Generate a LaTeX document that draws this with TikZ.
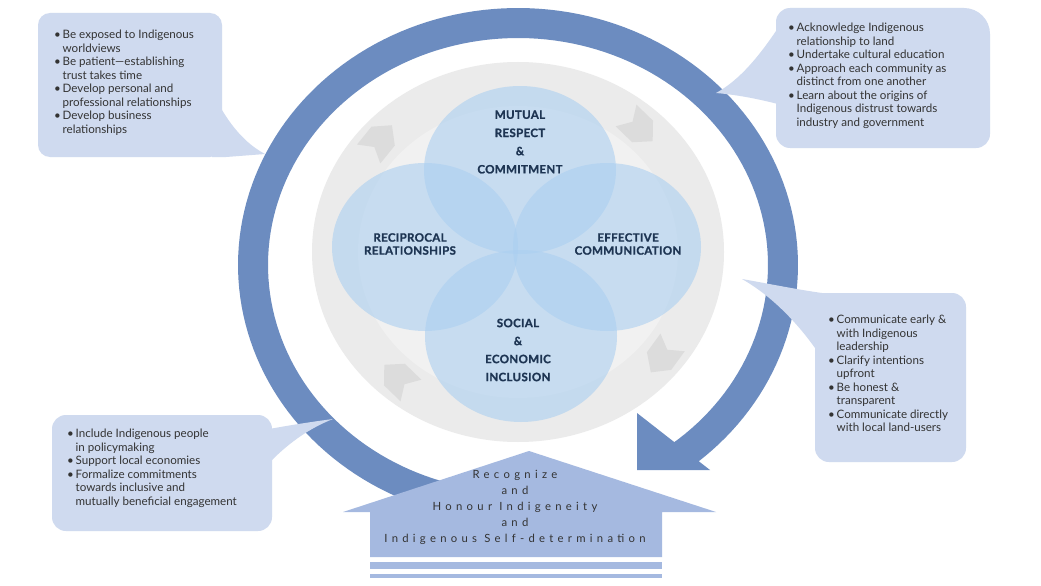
\documentclass[tikz,border=0pt]{standalone}
\usepackage{fontspec}
\setmainfont{Lato}
\newfontfamily\housefont[LetterSpace=38]{Lato}
\newfontfamily\vennfont[LetterSpace=3, BoldFeatures={FakeBold=1.2}]{Lato}
\definecolor{ringblue}{HTML}{6C8CC0}
\definecolor{bubblefill}{HTML}{CFDAEF}
\definecolor{housefill}{HTML}{A5B9E0}
\definecolor{grayband}{HTML}{EBEBEB}
\definecolor{grayinner}{HTML}{F1F1F1}
\definecolor{chevfill}{HTML}{DCDCDC}
\definecolor{vennfill}{HTML}{ABCFF0}
\definecolor{navy}{HTML}{1E3553}
\definecolor{txtgray}{HTML}{333333}
\newcommand\bi{\makebox[8.5pt][l]{\textbullet}}
\newcommand\ci{\hspace*{8.5pt}}
\tikzset{
  vennshape/.style={fill=vennfill, fill opacity=0.6},
  vlab/.style={font=\vennfont\fontsize{11.5}{13}\selectfont\bfseries, text=navy, align=center, inner sep=0pt},
  btext/.style={font=\fontsize{11.6}{13.5}\selectfont, text=txtgray, align=left, inner sep=0pt, anchor=north west},
  htext/.style={font=\housefont\fontsize{11.3}{16}\selectfont, text=txtgray, align=center, inner sep=0pt},
  bubble/.style={fill=bubblefill},
  chevron/.pic={\fill[chevfill] (-18,-15) -- (5,-15) -- (19,0) -- (5,15) -- (-18,15) -- (-9,0) -- cycle;}
}
\begin{document}
\begin{tikzpicture}[x=1pt,y=-1pt]
\path[use as bounding box, fill=white] (0,0) rectangle (1041,586);
% gray background ring
\fill[grayband] (518,252) ellipse [x radius=206pt, y radius=190pt];
\fill[grayinner] (518,252) ellipse [x radius=160pt, y radius=146pt];
\pic[rotate=51] at (380,140) {chevron};
\pic[rotate=-44] at (639,128) {chevron};
\pic[rotate=-126] at (662,357) {chevron};
\pic[rotate=136] at (398,378) {chevron};
% venn circles
\fill[vennshape] (520,170) ellipse [x radius=96pt, y radius=84pt];
\fill[vennshape] (425,247) ellipse [x radius=93pt, y radius=84pt];
\fill[vennshape] (607,247) ellipse [x radius=94pt, y radius=84pt];
\fill[vennshape] (521,336) ellipse [x radius=96pt, y radius=86pt];
\node[vlab, font=\vennfont\fontsize{11.5}{18.2}\selectfont\bfseries] (mrc) at (520,142) {MUTUAL\\RESPECT\\\&\\COMMITMENT};
\node[vlab] (rr) at (410,244) {RECIPROCAL\\RELATIONSHIPS};
\node[vlab] (ec) at (628,244) {EFFECTIVE\\COMMUNICATION};
\node[vlab, font=\vennfont\fontsize{11.5}{18}\selectfont\bfseries] (sei) at (518,350) {SOCIAL\\\&\\ECONOMIC\\INCLUSION};
% blue cycle ring
\fill[ringblue] plot[domain=100:412,samples=160] ({518+280*cos(\x)},{265+257*sin(\x)})
  -- plot[domain=412:100,samples=160] ({518+250*cos(\x)},{265+227*sin(\x)}) -- cycle;
\fill[ringblue] (637,413) -- (637,470) -- (710,470) -- cycle;
% bubbles
\fill[bubble, rounded corners=12pt] (38,13) rectangle (222,157);
\fill[bubble] (212,100) -- (222,110) .. controls (234,130) and (248,145) .. (265,154) -- (226,157) -- (212,157) -- cycle;
\fill[bubble, rounded corners=14pt] (776,148) -- (776,8) [rounded corners=26pt] -- (990,8) [rounded corners=14pt] -- (990,148) -- cycle;
\fill[bubble] (790,22) -- (778,28) .. controls (760,55) and (740,80) .. (716,93) .. controls (740,95) and (762,100) .. (778,104) -- (790,104) -- cycle;
\fill[bubble, rounded corners=14pt] (815,293) rectangle (966,462);
\fill[bubble] (830,293) -- (822,293) .. controls (800,290) and (770,284) .. (742,279) .. controls (770,295) and (795,320) .. (815,348) -- (830,348) -- cycle;
\fill[bubble, rounded corners=14pt] (52,415) rectangle (272,531);
\fill[bubble] (258,428) -- (264,430) .. controls (285,426) and (310,422) .. (333,419) .. controls (310,428) and (290,442) .. (272,460) -- (258,460) -- cycle;
\node[btext] (tl) at (54,30) {\bi Be exposed to Indigenous\\\ci worldviews\\\bi Be patient---establishing\\\ci trust takes time\\\bi Develop personal and\\\ci professional relationships\\\bi Develop business\\\ci relationships};
\node[btext] (tr) at (788,23) {\bi Acknowledge Indigenous\\\ci relationship to land\\\bi Undertake cultural education\\\bi Approach each community as\\\ci distinct from one another\\\bi Learn about the origins of\\\ci Indigenous distrust towards\\\ci industry and government};
\node[btext] (rt) at (828,315) {\bi Communicate early \&\\\ci with Indigenous\\\ci leadership\\\bi Clarify intentions\\\ci upfront\\\bi Be honest \&\\\ci transparent\\\bi Communicate directly\\\ci with local land-users};
\node[btext] (bl) at (67,429) {\bi Include Indigenous people\\\ci in policymaking\\\bi Support local economies\\\bi Formalize commitments\\\ci towards inclusive and\\\ci mutually beneficial engagement};
% house
\fill[housefill] (529,451) -- (716,512) -- (662,512) -- (662,557) -- (370,557) -- (370,512) -- (343,512) -- cycle;
\fill[housefill] (370,562) rectangle (662,569);
\fill[housefill] (370,574) rectangle (662,578);
\node[htext] (hs) at (515,507) {Recognize\\and\\Honour Indigeneity\\and\\Indigenous Self-determination};
\end{tikzpicture}
\end{document}
